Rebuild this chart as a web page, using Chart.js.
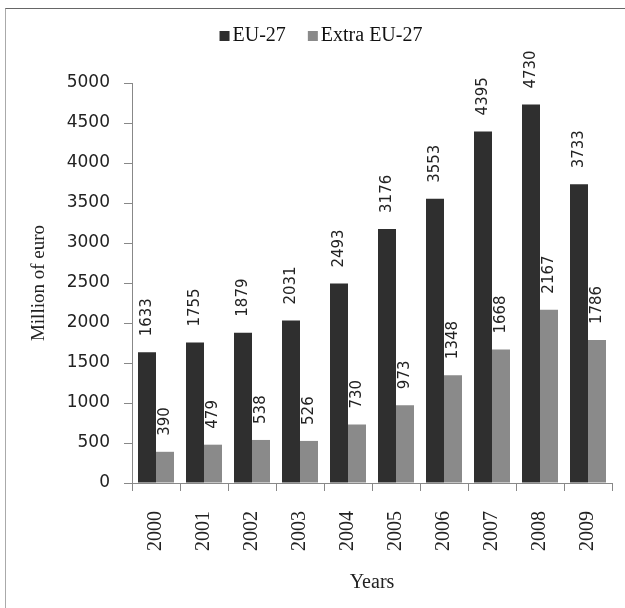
<!DOCTYPE html>
<html>
<head>
<meta charset="utf-8">
<script src="https://cdn.jsdelivr.net/npm/chart.js@4/dist/chart.umd.min.js"></script>
<style>
  html, body { margin: 0; padding: 0; background: #fff; }
  #wrap { position: relative; width: 625px; height: 608px; }
  #frame {
    position: absolute; left: 5px; top: 8px; right: 0; bottom: 0;
    border-top: 1px solid #666; border-left: 1px solid #aaa;
  }
  canvas { position: absolute; left: 0; top: 0; }
</style>
</head>
<body>
<div id="wrap">
  <div id="frame"></div>
  <canvas id="chart" width="625" height="608"></canvas>
</div>
<script>
const years = ["2000", "2001", "2002", "2003", "2004", "2005", "2006", "2007", "2008", "2009"];
const eu27 = [1633, 1755, 1879, 2031, 2493, 3176, 3553, 4395, 4730, 3733];
const extraEu27 = [390, 479, 538, 526, 730, 973, 1348, 1668, 2167, 1786];

const serif = "'Liberation Serif', 'Times New Roman', serif";
const sans = "'DejaVu Sans', sans-serif";

/* ===== PLUGINS ===== */

// values written vertically above each bar
const barValues = {
  id: "barValues",
  afterDatasetsDraw(chart) {
    const ctx = chart.ctx;
    ctx.save();
    ctx.font = "15px " + sans;
    ctx.fillStyle = "#222";
    ctx.textAlign = "left";
    ctx.textBaseline = "middle";
    chart.data.datasets.forEach((ds, i) => {
      chart.getDatasetMeta(i).data.forEach((bar, j) => {
        ctx.save();
        ctx.translate(bar.x, bar.y - 16);
        ctx.rotate(-Math.PI / 2);
        ctx.fillText(String(ds.data[j]), 0, 0);
        ctx.restore();
      });
    });
    ctx.restore();
  }
};

// legend row at the top, centred over the plot
const topLegend = {
  id: "topLegend",
  afterDraw(chart) {
    const ctx = chart.ctx;
    ctx.save();
    ctx.font = "20px " + serif;
    ctx.textBaseline = "middle";
    const box = 10, gap = 3, spacing = 22;
    const items = chart.data.datasets.map(ds => ({
      label: ds.label, color: ds.backgroundColor, w: ctx.measureText(ds.label).width
    }));
    const total = items.reduce((s, it) => s + box + gap + it.w, 0) + spacing * (items.length - 1);
    let x = 321 - total / 2;
    const y = 36;
    items.forEach(it => {
      ctx.fillStyle = it.color;
      ctx.fillRect(x, y - box / 2, box, box);
      x += box + gap;
      ctx.fillStyle = "#111";
      ctx.fillText(it.label, x, y);
      x += it.w + spacing;
    });
    ctx.restore();
  }
};

/* ===== CHART ===== */

new Chart(document.getElementById("chart"), {
  type: "bar",
  data: {
    labels: years,
    datasets: [
      { label: "EU-27", data: eu27, backgroundColor: "#2f2f2f" },
      { label: "Extra EU-27", data: extraEu27, backgroundColor: "#8a8a8a" }
    ]
  },
  options: {
    responsive: false,
    animation: false,
    layout: { padding: { top: 83, right: 13, bottom: 0, left: 0 } },
    datasets: { bar: { categoryPercentage: 0.75, barPercentage: 1.0 } },
    plugins: { legend: { display: false }, tooltip: { enabled: false } },
    scales: {
      x: {
        afterFit(scale) {
          scale.height = 125;
          scale.paddingLeft = 0;
          scale.paddingRight = 0;
        },
        grid: { display: true, drawOnChartArea: false, tickLength: 8, color: "#888", offset: true },
        border: { color: "#888" },
        ticks: {
          minRotation: 90, maxRotation: 90, padding: 20,
          color: "#222", font: { family: serif, size: 20 }
        },
        title: {
          display: true, text: "Years", color: "#222",
          font: { family: serif, size: 20 }, padding: { top: 0, bottom: 13 }
        }
      },
      y: {
        min: 0, max: 5000,
        afterFit(scale) {
          scale.width = 132;
          scale.paddingTop = 0;
          scale.paddingBottom = 0;
        },
        grid: { display: true, drawOnChartArea: false, tickLength: 8, color: "#888" },
        border: { color: "#888" },
        ticks: {
          stepSize: 500, padding: 14,
          color: "#222", font: { family: sans, size: 17 },
          callback: v => String(v)
        },
        title: {
          display: true, text: "Million of euro", color: "#222",
          font: { family: serif, size: 19 }, padding: { top: 28, bottom: 0 }
        }
      }
    }
  },
  plugins: [barValues, topLegend]
});
</script>
</body>
</html>
